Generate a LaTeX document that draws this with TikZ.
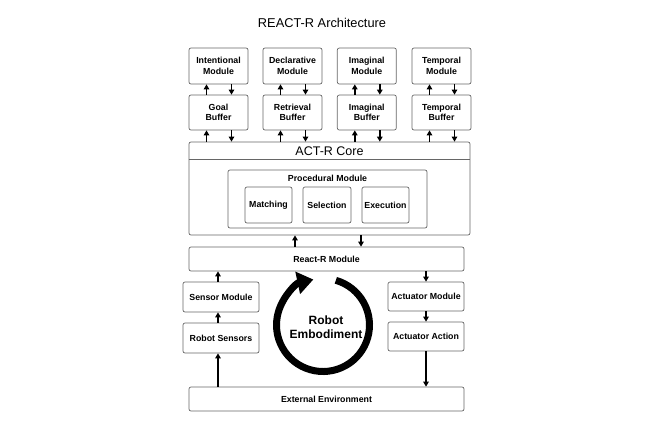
\documentclass[tikz,border=0pt]{standalone}
\usepackage{fontspec}
\setmainfont{Liberation Sans}
\usetikzlibrary{arrows.meta,calc}
\begin{document}
\begin{tikzpicture}[x=1pt,y=1pt,
  box/.style={draw=black!60, rounded corners=2pt, line width=0.7pt, fill=white,
    font=\fontsize{8.8}{10.5}\selectfont\bfseries, align=center, inner sep=0pt},
  arr/.style={line width=1.4pt, -{Triangle[length=5pt,width=5.5pt]}},
]
\useasboundingbox (0,0) rectangle (666,-440);
\node[font=\fontsize{12.8}{15}\selectfont] (title) at (322,-23) {REACT-R Architecture};
% modules
\foreach \n/\c/\t in {m1/218.5/{Intentional\\Module}, m2/292.5/{Declarative\\Module}, m3/366.8/{Imaginal\\Module}, m4/441.5/{Temporal\\Module}}{
  \node[box, minimum width=59pt, minimum height=36pt] (\n) at (\c,-66) {\t};
}
\foreach \n/\c/\t in {b1/218.5/{Goal\\Buffer}, b2/292.5/{Retrieval\\Buffer}, b3/366.8/{Imaginal\\Buffer}, b4/441.5/{Temporal\\Buffer}}{
  \node[box, minimum width=59pt, minimum height=35pt] (\n) at (\c,-112.5) {\t};
}
% core
\node[box, minimum width=281pt, minimum height=93pt] (core) at (329.5,-188.5) {};
\draw[draw=black!60, line width=0.7pt] (core.west |- 0,-159.5) -- (core.east |- 0,-159.5);
\node[font=\fontsize{12.5}{15}\selectfont] (coretitle) at (329.5,-151) {ACT-R Core};
\node[box, minimum width=199pt, minimum height=58pt] (proc) at (327.5,-199) {};
\node[font=\fontsize{8.8}{10.5}\selectfont\bfseries] (proctitle) at (327.5,-178.5) {Procedural Module};
\node[box, minimum width=47pt, minimum height=36pt] (match) at (268.5,-205) {Matching};
\node[box, minimum width=48pt, minimum height=36pt] (sel) at (327,-205) {Selection};
\node[box, minimum width=47pt, minimum height=36pt] (exec) at (385.5,-205) {Execution};
% react
\node[box, minimum width=275pt, minimum height=24pt] (react) at (326.5,-259) {React-R Module};
\node[box, minimum width=76pt, minimum height=30pt] (sensm) at (221,-297) {Sensor Module};
\node[box, minimum width=76pt, minimum height=30pt] (senss) at (221,-338) {Robot Sensors};
\node[box, minimum width=76pt, minimum height=29pt] (actm) at (426,-296.5) {Actuator Module};
\node[box, minimum width=76pt, minimum height=29pt] (acta) at (426,-336.5) {Actuator Action};
\node[box, minimum width=275pt, minimum height=24pt] (env) at (326.5,-399) {External Environment};
% arrows modules/buffers/core
\foreach \i in {1,2,3,4}{
  \draw[arr] ([xshift=-12pt]b\i.north) -- ([xshift=-12pt]m\i.south);
  \draw[arr] ([xshift=13pt]m\i.south) -- ([xshift=13pt]b\i.north);
  \draw[arr] (core.north -| {$(b\i.south)+(-12pt,0)$}) -- ([xshift=-12pt]b\i.south);
  \draw[arr] ([xshift=13pt]b\i.south) -- (core.north -| {$(b\i.south)+(13pt,0)$});
}
\draw[arr] (react.north -| 295,0) -- (core.south -| 295,0);
\draw[arr] (core.south -| 361,0) -- (react.north -| 361,0);
\draw[arr] (sensm.north -| 218,0) -- (react.south -| 218,0);
\draw[arr] (senss.north -| 218,0) -- (sensm.south -| 218,0);
\draw[arr] (env.north -| 218,0) -- (senss.south -| 218,0);
\draw[arr] (react.south -| 426,0) -- (actm.north);
\draw[arr] (actm.south) -- (acta.north);
\draw[arr] (acta.south) -- (env.north -| 426,0);
% embodiment cycle
\coordinate (cyc) at (323,-325);
\draw[line width=7pt, -{Triangle[length=16pt,width=22pt]}]
  ($(cyc)+(74:46.5)$) arc[start angle=74, end angle=-258, radius=46.5];
\node[font=\fontsize{12}{14}\selectfont\bfseries, align=center] (emb) at (326,-327) {Robot\\Embodiment};
\end{tikzpicture}
\end{document}
